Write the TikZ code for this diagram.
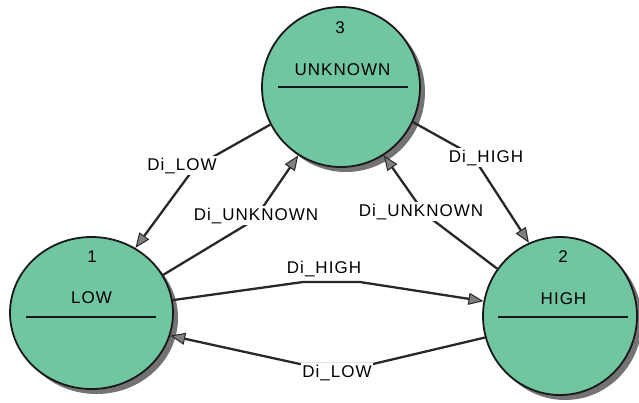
\documentclass[tikz,border=0pt]{standalone}
\usepackage{fontspec}
\newfontfamily\lblfont[LetterSpace=6]{Liberation Sans}
\usetikzlibrary{shapes.geometric,arrows.meta}
\definecolor{statefill}{RGB}{112,198,160}
\definecolor{edgecol}{RGB}{40,40,40}
\definecolor{tipfill}{RGB}{128,128,128}
\definecolor{shadowcol}{RGB}{115,115,115}
\begin{document}
\begin{tikzpicture}[x=1pt,y=-1pt,
  state/.style={ellipse, draw=black!90, line width=1.8pt, fill=statefill, inner sep=0pt},
  txt/.style={font=\lblfont\fontsize{17}{17}\selectfont, text=black, inner sep=1pt, anchor=base},
  lbl/.style={txt, fill=white, inner sep=1.5pt},
  edge/.style={draw=edgecol, line width=2.3pt, line join=round,
    -{Triangle[length=15pt,width=12pt,fill=tipfill,line width=1pt]}},
  divider/.style={line width=1.6pt, draw=black!90}]
\useasboundingbox (0,0) rectangle (639,402);
% shadows
\fill[shadowcol] (346,92) ellipse [x radius=79pt, y radius=80pt];
\fill[shadowcol] (96.5,318) ellipse [x radius=81.5pt, y radius=76pt];
\fill[shadowcol] (565,321) ellipse [x radius=77pt, y radius=79pt];
% states
\node[state, minimum width=158pt, minimum height=160pt] (n3) at (341,87) {};
\node[state, minimum width=163pt, minimum height=152pt] (n1) at (91.5,313) {};
\node[state, minimum width=154pt, minimum height=158pt] (n2) at (560,316) {};
% state contents
\node[txt] (n3num) at (340,33) {3};
\node[txt] (n3name) at (342.5,75) {UNKNOWN};
\draw[divider] (278,87) -- (408,87);
\node[txt] (n1num) at (92,262) {1};
\node[txt] (n1name) at (91.5,303) {LOW};
\draw[divider] (26,317) -- (156,317);
\node[txt] (n2num) at (563,262) {2};
\node[txt] (n2name) at (563.5,304) {HIGH};
\draw[divider] (498,317) -- (628,317);
% connectors
\coordinate (bA) at (195,167);
\coordinate (bB) at (254,220);
\coordinate (bC) at (472,155);
\coordinate (bD) at (425,214);
\coordinate (bE1) at (303,282);
\coordinate (bE2) at (360,282);
\coordinate (bF1) at (373,364);
\coordinate (bF2) at (300,364);
\draw[edge] (n3.208) -- (bA) -- (n1.56);
\draw[edge] (n1.28) -- (bB) -- (n3.238);
\draw[edge] (n3.334) -- (bC) -- (n2.113);
\draw[edge] (n2.143) -- (bD) -- (n3.302);
\draw[edge] (n1.9) -- (bE1) -- (bE2) -- (n2.169);
\draw[edge] (n2.196) -- (bF1) -- (bF2) -- (n1.344);
% labels
\node[lbl] (lA) at (182,170) {Di\_LOW};
\node[lbl] (lB) at (256,220) {Di\_UNKNOWN};
\node[lbl] (lC) at (486,162) {Di\_HIGH};
\node[lbl] (lD) at (421,216) {Di\_UNKNOWN};
\node[txt] (lE) at (324,273) {Di\_HIGH};
\node[lbl] (lF) at (337,377) {Di\_LOW};
\end{tikzpicture}
\end{document}
